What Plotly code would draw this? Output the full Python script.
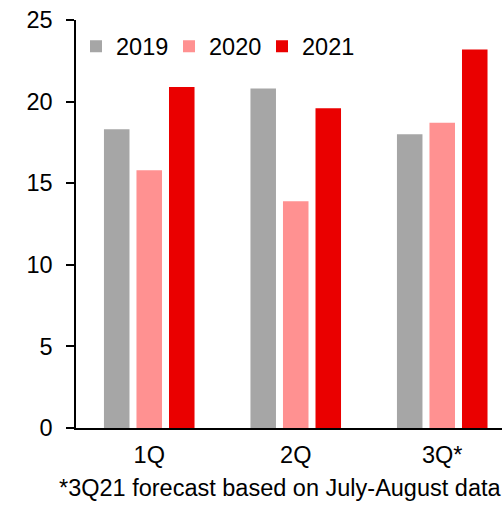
import plotly.graph_objects as go

quarters = ["1Q", "2Q", "3Q*"]
v2019 = [18.3, 20.8, 18.0]
v2020 = [15.8, 13.9, 18.7]
v2021 = [20.9, 19.6, 23.2]

series = [
    ("2019", v2019, "#A6A6A6"),
    ("2020", v2020, "#FF9191"),
    ("2021", v2021, "#EA0000"),
]

FONT = "Liberation Sans, Arial, sans-serif"

fig = go.Figure()
for name, vals, color in series:
    fig.add_trace(go.Bar(x=quarters, y=vals, name=name,
                         marker=dict(color=color, line=dict(width=0))))

fig.update_layout(
    width=502, height=509,
    margin=dict(l=76, r=0, t=20, b=81),
    paper_bgcolor="white", plot_bgcolor="white",
    barmode="group", bargap=0.334, bargroupgap=0.215,
    font=dict(family=FONT, size=23.5, color="black"),
    showlegend=True,
    legend=dict(orientation="h", x=0.0, y=0.935, xanchor="left", yanchor="middle",
                font=dict(size=23.5), bgcolor="rgba(0,0,0,0)", itemwidth=30,
                entrywidth=48, entrywidthmode="pixels", tracegroupgap=0),
    xaxis=dict(range=[-0.5, 2.408], showline=True, linecolor="black", linewidth=1.5,
               showgrid=False, ticks="", ticklabelstandoff=5, fixedrange=True),
    yaxis=dict(range=[0, 25], dtick=5, showline=True, linecolor="black", linewidth=1.5,
               showgrid=False, zeroline=False, ticks="outside", ticklen=8, tickwidth=1.5,
               tickcolor="black", ticklabelstandoff=9),
    annotations=[dict(text="*3Q21 forecast based on July-August data",
                      xref="paper", yref="paper", x=-0.0446, y=-0.11,
                      xanchor="left", yanchor="top", showarrow=False,
                      font=dict(size=23.5))],
)

fig.write_html("out.html")
